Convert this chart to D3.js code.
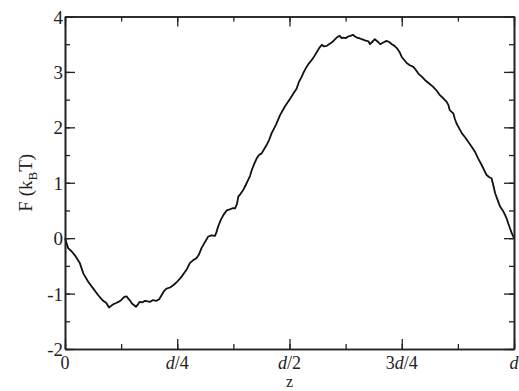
<!DOCTYPE html>
<html><head><meta charset="utf-8">
<script src="https://cdn.jsdelivr.net/npm/d3@7"></script>
<style>body{margin:0;background:#fff}svg{display:block}
text{font-family:"Liberation Serif","Times New Roman",Times,serif;}</style>
</head><body>
<script>
// z in units of d, F in k_B T
const zValues = [0,0.007,0.015,0.022,0.033,0.041,0.052,0.063,0.074,0.085,0.092,0.098,0.103,0.108,0.114,0.119,0.125,0.132,0.137,0.141,0.145,0.149,0.154,0.158,0.162,0.166,0.172,0.178,0.184,0.189,0.195,0.204,0.21,0.215,0.221,0.226,0.234,0.241,0.248,0.256,0.261,0.267,0.272,0.278,0.285,0.293,0.298,0.304,0.311,0.319,0.326,0.334,0.337,0.341,0.347,0.353,0.36,0.367,0.373,0.379,0.383,0.386,0.391,0.397,0.402,0.408,0.412,0.416,0.421,0.427,0.432,0.438,0.443,0.449,0.455,0.46,0.47,0.479,0.49,0.501,0.508,0.516,0.521,0.527,0.532,0.538,0.543,0.549,0.555,0.561,0.566,0.572,0.577,0.583,0.588,0.594,0.6,0.605,0.609,0.612,0.616,0.62,0.625,0.631,0.636,0.641,0.646,0.65,0.655,0.661,0.668,0.676,0.679,0.684,0.69,0.696,0.702,0.709,0.716,0.722,0.728,0.734,0.739,0.745,0.75,0.756,0.761,0.768,0.776,0.781,0.787,0.795,0.802,0.811,0.82,0.828,0.835,0.843,0.85,0.854,0.857,0.861,0.865,0.868,0.872,0.878,0.884,0.891,0.898,0.905,0.913,0.92,0.928,0.934,0.939,0.945,0.95,0.954,0.958,0.963,0.969,0.975,0.98,0.984,0.987,0.991,0.995,1.0];
const fValues = [0,-0.18,-0.24,-0.31,-0.45,-0.64,-0.79,-0.91,-1.03,-1.13,-1.17,-1.25,-1.22,-1.19,-1.17,-1.15,-1.12,-1.06,-1.05,-1.09,-1.13,-1.18,-1.21,-1.24,-1.2,-1.15,-1.16,-1.13,-1.14,-1.15,-1.12,-1.13,-1.1,-1.03,-0.95,-0.91,-0.89,-0.85,-0.8,-0.73,-0.68,-0.61,-0.55,-0.45,-0.4,-0.36,-0.3,-0.18,-0.08,0.03,0.05,0.04,0.1,0.21,0.33,0.42,0.5,0.52,0.54,0.54,0.62,0.75,0.8,0.87,0.95,1.05,1.12,1.23,1.33,1.44,1.5,1.53,1.6,1.68,1.78,1.89,2.05,2.22,2.38,2.51,2.6,2.7,2.82,2.91,3.0,3.09,3.15,3.21,3.28,3.36,3.43,3.49,3.46,3.47,3.5,3.53,3.58,3.62,3.64,3.65,3.61,3.62,3.61,3.64,3.65,3.67,3.64,3.62,3.61,3.59,3.57,3.55,3.5,3.54,3.59,3.55,3.5,3.53,3.56,3.54,3.5,3.47,3.43,3.36,3.27,3.21,3.16,3.12,3.09,3.04,2.97,2.91,2.85,2.79,2.73,2.66,2.58,2.52,2.46,2.4,2.31,2.28,2.25,2.16,2.07,1.98,1.89,1.82,1.74,1.66,1.56,1.44,1.32,1.22,1.14,1.1,1.08,0.95,0.81,0.7,0.57,0.5,0.42,0.35,0.27,0.18,0.09,0.0];
const yTicks = [-2,-1,0,1,2,3,4];
const xTickValues = [0,0.25,0.5,0.75,1];
const xTickLabels = [[["0",false]],[["d",true],["/4",false]],[["d",true],["/2",false]],[["3",false],["d",true],["/4",false]],[["d",true]]];

const W = 519, H = 391;
const m = {left:65, right:5, top:16.5, bottom:42};
const svg = d3.select("body").append("svg").attr("width",W).attr("height",H);
const x = d3.scaleLinear().domain([0,1]).range([m.left, W-m.right]);
const y = d3.scaleLinear().domain([-2,4]).range([H-m.bottom, m.top]);
const ink = "#222";

// curve
const data = zValues.map((z,i)=>[z,fValues[i]]);
svg.append("path").datum(data)
  .attr("fill","none").attr("stroke","#111").attr("stroke-width",1.8)
  .attr("stroke-linejoin","round")
  .attr("d", d3.line().x(d=>x(d[0])).y(d=>y(d[1])));

// axes with inward ticks
const xMinor = d3.range(0,1.0001,0.125);
const yMinor = d3.range(-2,4.0001,0.5);
function axisGroup(axis, tr){ const g = svg.append("g").attr("transform",tr).call(axis);
  g.selectAll("text").remove(); g.select(".domain").attr("stroke",ink).attr("stroke-width",1.6);
  g.selectAll("line").attr("stroke",ink).attr("stroke-width",1.3); return g; }
const bottomY = H-m.bottom, rightX = W-m.right;
axisGroup(d3.axisBottom(x).tickValues(xMinor).tickSizeInner(-5).tickSizeOuter(0), `translate(0,${bottomY})`);
axisGroup(d3.axisTop(x).tickValues(xMinor).tickSizeInner(-5).tickSizeOuter(0), `translate(0,${m.top})`);
axisGroup(d3.axisLeft(y).tickValues(yMinor).tickSizeInner(-5).tickSizeOuter(0), `translate(${m.left},0)`);
axisGroup(d3.axisRight(y).tickValues(yMinor).tickSizeInner(-5).tickSizeOuter(0), `translate(${rightX},0)`);
axisGroup(d3.axisBottom(x).tickValues(xTickValues).tickSizeInner(-10).tickSizeOuter(0), `translate(0,${bottomY})`);
axisGroup(d3.axisTop(x).tickValues(xTickValues).tickSizeInner(-10).tickSizeOuter(0), `translate(0,${m.top})`);
axisGroup(d3.axisLeft(y).tickValues(yTicks).tickSizeInner(-10).tickSizeOuter(0), `translate(${m.left},0)`);
axisGroup(d3.axisRight(y).tickValues(yTicks).tickSizeInner(-10).tickSizeOuter(0), `translate(${rightX},0)`);

// y tick labels
svg.append("g").selectAll("text").data(yTicks).join("text")
  .attr("x", m.left-2).attr("y", d=>y(d)+7)
  .attr("text-anchor","end").attr("font-size",19).attr("fill",ink)
  .text(d=>d);

// x tick labels
const xl = svg.append("g").selectAll("text").data(xTickValues).join("text")
  .attr("x", d=>x(d)).attr("y", bottomY+20)
  .attr("text-anchor","middle").attr("font-size",18).attr("fill",ink);
xl.each(function(d,i){
  const t = d3.select(this);
  xTickLabels[i].forEach(p=>{
    t.append("tspan").attr("font-style", p[1]?"italic":"normal").text(p[0]);
  });
});

// axis titles
svg.append("text").attr("x", (m.left+rightX)/2).attr("y", 387)
  .attr("text-anchor","middle").attr("font-size",16).attr("fill",ink).text("z");
const yl = svg.append("text").attr("transform",`translate(32,${(m.top+bottomY)/2}) rotate(-90)`)
  .attr("text-anchor","middle").attr("font-size",19).attr("fill",ink);
yl.append("tspan").text("F (k");
yl.append("tspan").attr("font-size",13).attr("dy",5).text("B");
yl.append("tspan").attr("dy",-5).text("T)");
</script>
</body></html>
